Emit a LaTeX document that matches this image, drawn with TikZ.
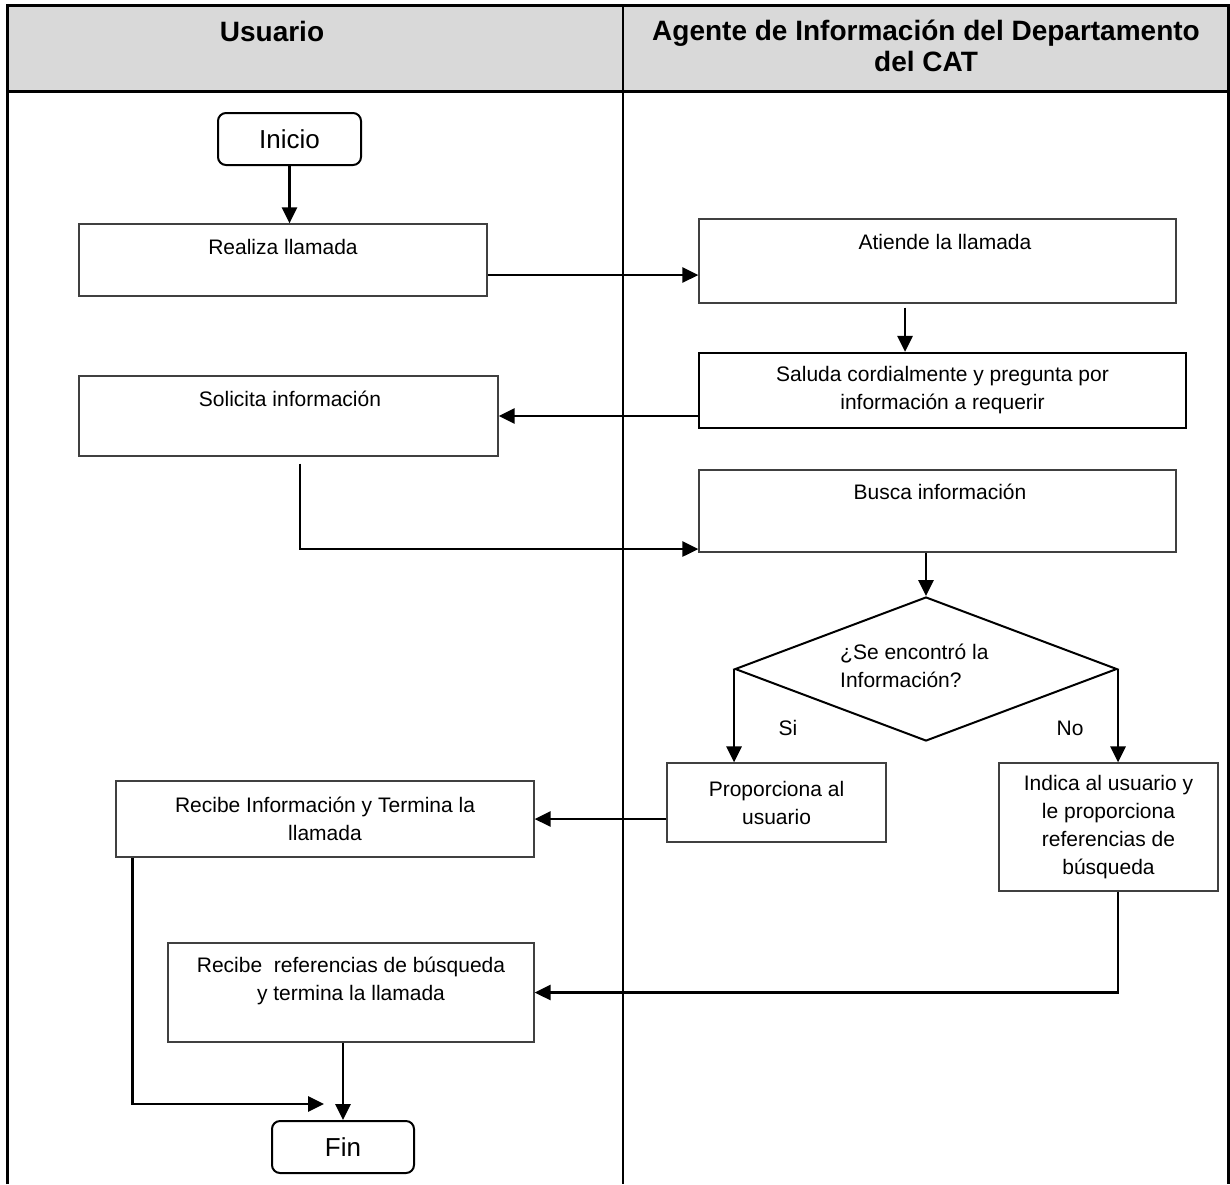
\documentclass[tikz,border=0pt]{standalone}
\usepackage{fontspec}
\setmainfont{Liberation Sans}
\usetikzlibrary{arrows.meta,shapes.geometric}
\begin{document}
\begin{tikzpicture}[x=1pt,y=-1pt,
  box/.style={draw=black!75, line width=1.2pt, rectangle, inner sep=0pt, fill=white},
  txt/.style={font=\fontsize{21}{28}\selectfont, align=center, inner sep=0pt},
  term/.style={draw, line width=2pt, rounded corners=8pt, inner sep=0pt, font=\fontsize{26}{30}\selectfont},
  arr/.style={line width=2.8pt, -{Triangle[length=16pt,width=15pt]}},
  hdr/.style={font=\bfseries\fontsize{28}{31}\selectfont, align=center, inner sep=0pt}]
\useasboundingbox (0,0) rectangle (1230,1184);
% lanes
\fill[black!15] (7.5,5) rectangle (1228.5,91.5);
\draw[line width=3pt] (7.5,1184) -- (7.5,5) -- (1228.5,5) -- (1228.5,1184);
\draw[line width=3pt] (7.5,91.5) -- (1228.5,91.5);
\draw[line width=2pt] (623,5) -- (623,1184);
\node[hdr] (hU) at (272,31) {Usuario};
\node[hdr] (hA) at (926,46) {Agente de Información del Departamento\\del CAT};
% nodes
\node[term, minimum width=143pt, minimum height=52pt] (inicio) at (289.5,139) {Inicio};
\node[box, minimum width=408pt, minimum height=72pt] (realiza) at (283,260) {};
\node[txt] (realizaT) at (283,247) {Realiza llamada};
\node[box, minimum width=477pt, minimum height=84pt] (atiende) at (937.5,261) {};
\node[txt] (atiendeT) at (945,242) {Atiende la llamada};
\node[box, draw=black, line width=2.2pt, minimum width=487pt, minimum height=75pt, txt] (saluda) at (942.5,390.5) {Saluda cordialmente y pregunta por\\información a requerir};
\node[box, minimum width=419pt, minimum height=80pt] (solicita) at (288.5,416) {};
\node[txt] (solicitaT) at (290,399) {Solicita información};
\node[box, minimum width=477pt, minimum height=82pt] (busca) at (937.5,511) {};
\node[txt] (buscaT) at (940,492) {Busca información};
\node[draw, diamond, line width=2pt, minimum width=382pt, minimum height=144pt, inner sep=0pt, shape aspect=2.65] (dia) at (926,669) {};
\node[txt, anchor=west, align=left] (diaT) at (840,666) {¿Se encontró la\\Información?};
\node[txt] (si) at (788,728) {Si};
\node[txt] (no) at (1070,728) {No};
\node[box, minimum width=219pt, minimum height=79pt, txt] (prop) at (776.5,802.5) {Proporciona al\\usuario};
\node[box, minimum width=219pt, minimum height=128pt, txt] (indica) at (1108.5,827) {Indica al usuario y\\le proporciona\\referencias de\\búsqueda};
\node[box, minimum width=418pt, minimum height=76pt, txt] (recinfo) at (325,819) {Recibe Información y Termina la\\llamada};
\node[box, minimum width=366pt, minimum height=99pt] (recref) at (351,992.5) {};
\node[txt] (recrefT) at (351,981) {Recibe\ \ referencias de búsqueda\\y termina la llamada};
\node[term, minimum width=142pt, minimum height=52pt] (fin) at (343,1147) {Fin};
\coordinate (finin) at (324,1104);
% connectors
\draw[arr] (inicio.south) -- (inicio.south |- realiza.north);
\draw[arr] ([yshift=-15pt]realiza.east) -- ([yshift=-14pt]atiende.west);
\draw[arr] ([xshift=-32.5pt,yshift=-4pt]atiende.south) -- ([xshift=-37.5pt]saluda.north);
\draw[arr] (saluda.west |- solicita.east) -- (solicita.east);
\draw[arr] ([xshift=11.5pt,yshift=-7pt]solicita.south) |- ([yshift=-38pt]busca.west);
\draw[arr] (busca.south -| dia.north) -- (dia.north);
\draw[arr] (dia.west) -- (dia.west |- prop.north);
\draw[arr] (dia.east) -- (dia.east |- indica.north);
\draw[arr] (prop.west |- recinfo.east) -- (recinfo.east);
\draw[arr] (dia.east |- indica.south) |- (recref.east);
\draw[arr] ([xshift=17pt]recinfo.south west) |- (finin);
\draw[arr] (recref.south -| fin.north) -- (fin.north);
\end{tikzpicture}
\end{document}
